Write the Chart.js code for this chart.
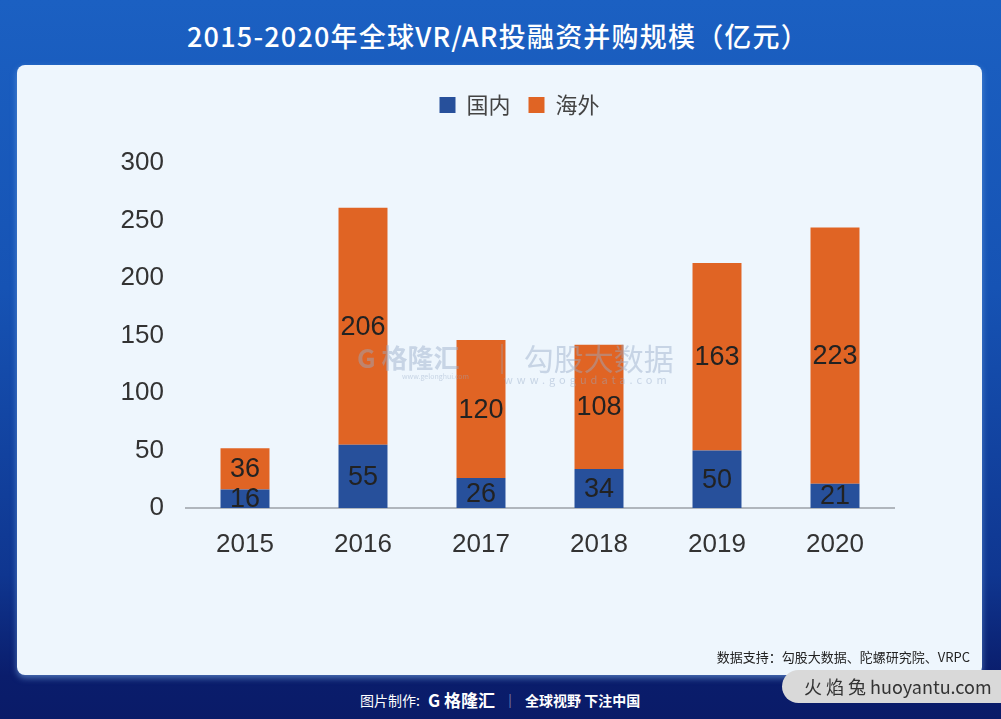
<!DOCTYPE html>
<html>
<head>
<meta charset="utf-8">
<script src="https://cdn.jsdelivr.net/npm/chart.js@4.4.1/dist/chart.umd.min.js"></script>
<style>
    html, body { margin: 0; padding: 0; }
    body {
        width: 1001px; height: 719px; overflow: hidden; position: relative;
        background: linear-gradient(180deg, #1b60c2 0%, #1653b4 40%, #0f3690 80%, #0a1d6c 94%, #0a1b68 100%);
        font-family: 'Noto Sans CJK SC', 'Noto Sans', sans-serif;
    }
    #title {
        position: absolute; left: 8px; top: 16px; width: 980px; text-align: center;
        color: #fff; font-size: 27px; font-weight: 500; letter-spacing: 1.2px;
    }
    #panel {
        position: absolute; left: 17px; top: 65px; width: 965px; height: 610px;
        background: #eef6fd; border-radius: 8px;
        box-shadow: 0 3px 6px rgba(120, 170, 230, 0.6);
    }
    #chart { position: absolute; left: 0; top: 0; }
    .wm { position: absolute; color: rgba(150, 170, 200, 0.45); pointer-events: none; }
    #source {
        position: absolute; right: 12px; top: 582px; font-size: 13px; color: #222;
    }
    #footer {
        position: absolute; left: 360px; top: 687px; color: #fff; font-size: 14px;
        display: flex; align-items: center; gap: 8px;
    }
    #badge {
        position: absolute; left: 782px; top: 670px; width: 240px; height: 33px;
        background: #d9d9d9; border-radius: 17px; color: #333;
        font-size: 18px; line-height: 33px; padding-left: 22px; box-sizing: border-box;
    }
</style>
</head>
<body>
<div id="title">2015-2020年全球VR/AR投融资并购规模（亿元）</div>
<div id="panel">
    <canvas id="chart" width="965" height="610"></canvas>
    <div class="wm" style="left:340px; top:273px; font-size:26px; font-weight:bold;">G 格隆汇</div>
    <div class="wm" style="left:385px; top:306px; font-size:7px;">www.gelonghui.com</div>
    <div class="wm" style="left:470px; top:270px; font-size:30px;">│ 勾股大数据</div>
    <div class="wm" style="left:487px; top:306px; font-size:11px; letter-spacing:4px;">www.gogudata.com</div>
    <div id="source">数据支持：勾股大数据、陀螺研究院、VRPC</div>
</div>
<div id="footer">
    <span>图片制作:</span>
    <span style="font-weight:bold; font-size:17px;">G 格隆汇</span>
    <span style="opacity:0.6;">│</span>
    <span style="font-weight:bold;">全球视野 下注中国</span>
</div>
<div id="badge">火 焰 兔 huoyantu.com</div>

<script>
// chart data
const years = ['2015', '2016', '2017', '2018', '2019', '2020'];
const domestic = [16, 55, 26, 34, 50, 21];
const overseas = [36, 206, 120, 108, 163, 223];
const yTicks = [0, 50, 100, 150, 200, 250, 300];

// draw the value in the middle of each segment
const segmentLabels = {
    id: 'segmentLabels',
    afterDatasetsDraw(chart) {
        const ctx = chart.ctx;
        ctx.save();
        ctx.font = "27px 'Liberation Sans', Arial, sans-serif";
        ctx.fillStyle = '#222';
        ctx.textAlign = 'center';
        ctx.textBaseline = 'middle';
        chart.data.datasets.forEach((ds, i) => {
            chart.getDatasetMeta(i).data.forEach((bar, j) => {
                ctx.fillText(ds.data[j], bar.x, (bar.y + bar.base) / 2 + 1);
            });
        });
        ctx.restore();
    }
};

// extra room under the legend, and nudge it right like the original
const legendGap = {
    id: 'legendGap',
    beforeInit(chart) {
        const fit = chart.legend.fit;
        chart.legend.fit = function () {
            fit.bind(chart.legend)();
            this.height += 37;
        };
    },
    afterLayout(chart) {
        chart.legend.left += 44;
        chart.legend.right += 44;
    }
};

new Chart(document.getElementById('chart'), {
    type: 'bar',
    data: {
        labels: years,
        datasets: [
            { label: '国内', data: domestic, backgroundColor: '#27509b' },
            { label: '海外', data: overseas, backgroundColor: '#e06424' }
        ]
    },
    options: {
        responsive: false,
        animation: false,
        layout: { padding: { left: 40, right: 88, top: 11, bottom: 112 } },
        categoryPercentage: 1,
        barPercentage: 0.415,
        plugins: {
            legend: {
                labels: {
                    boxWidth: 16, boxHeight: 16, padding: 18, color: '#444',
                    font: { size: 22, family: "'Noto Sans CJK SC', sans-serif" }
                }
            },
            tooltip: { enabled: false }
        },
        scales: {
            x: {
                stacked: true,
                grid: { display: false },
                border: { color: '#b0b6bd', width: 2 },
                afterFit: s => { s.height = 55; },
                ticks: { color: '#333', padding: 13, font: { size: 26, family: "'Liberation Sans', Arial, sans-serif" } }
            },
            y: {
                stacked: true,
                min: 0, max: 300,
                afterBuildTicks: s => { s.ticks = yTicks.map(v => ({ value: v })); },
                afterFit: s => { s.width = 129; },
                grid: { display: false },
                border: { display: false },
                ticks: { color: '#333', padding: 14, font: { size: 26, family: "'Liberation Sans', Arial, sans-serif" } }
            }
        }
    },
    plugins: [segmentLabels, legendGap]
});
</script>
</body>
</html>
